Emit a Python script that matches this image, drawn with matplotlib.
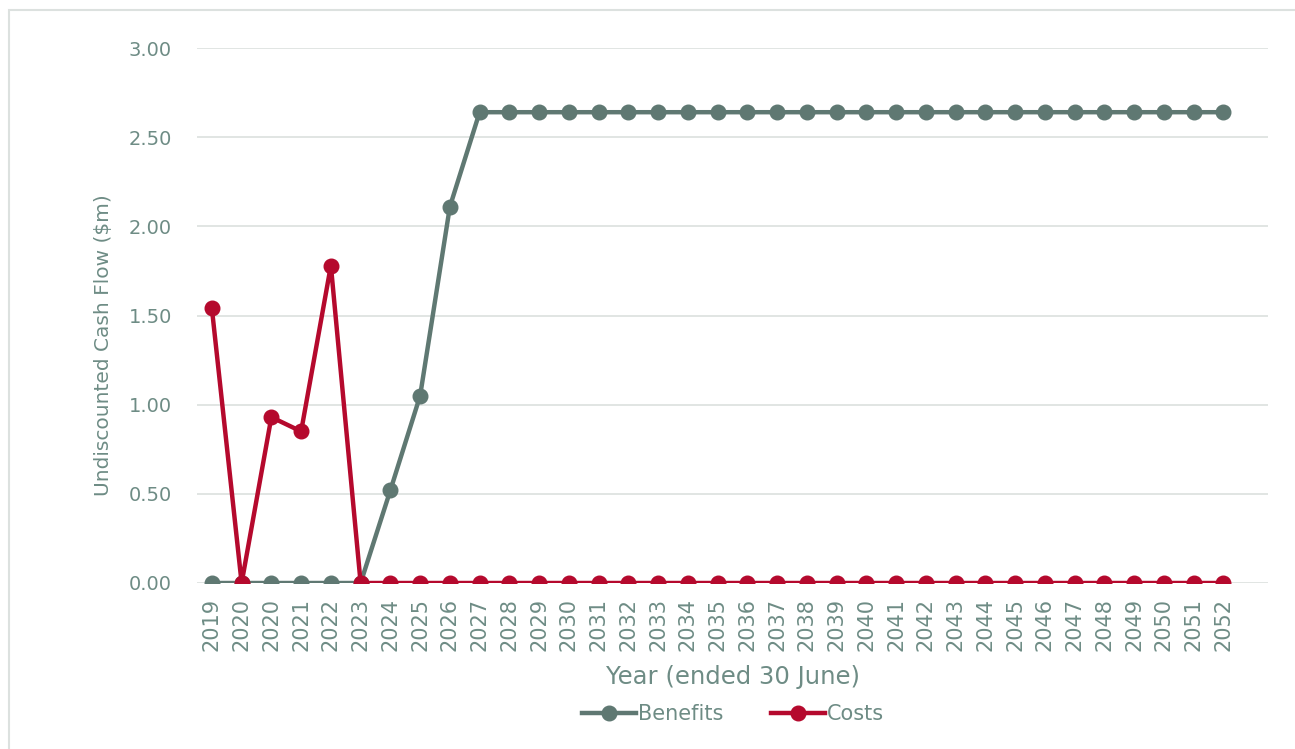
import matplotlib
matplotlib.use("Agg")
import matplotlib.pyplot as plt
from matplotlib.patches import Rectangle
from matplotlib.lines import Line2D

years = ["2019", "2020", "2020", "2021", "2022", "2023", "2024", "2025", "2026",
         "2027", "2028", "2029", "2030", "2031", "2032", "2033", "2034", "2035",
         "2036", "2037", "2038", "2039", "2040", "2041", "2042", "2043", "2044",
         "2045", "2046", "2047", "2048", "2049", "2050", "2051", "2052"]
benefits = [0, 0, 0, 0, 0, 0, 0.52, 1.05, 2.11] + [2.64] * 26
costs = [1.54, 0, 0.93, 0.85, 1.78] + [0] * 30

benefit_color = "#5F7872"
cost_color = "#B5092D"
text_color = "#6E8C85"
grid_color = "#DEE3E1"

plt.rcParams["font.family"] = ["DejaVu Sans"]

fig = plt.figure(figsize=(12.95, 7.49), dpi=100)
ax = fig.add_axes([197 / 1295, 1 - 583 / 749, (1268 - 197) / 1295, (583 - 48) / 749])

x = list(range(len(years)))
ax.plot(x, benefits, color=benefit_color, lw=3.2, marker="o", ms=10.5, zorder=3,
        solid_joinstyle="round", label="Benefits")
ax.plot(x, costs, color=cost_color, lw=3.2, marker="o", ms=10.5, zorder=4,
        solid_joinstyle="round", label="Costs")

ax.set_xlim(-0.5, len(years) + 0.5)
ax.set_ylim(0, 3)
ax.set_yticks([0, 0.5, 1, 1.5, 2, 2.5, 3])
ax.set_yticklabels([f"{v:.2f}" for v in [0, 0.5, 1, 1.5, 2, 2.5, 3]])
ax.set_xticks(x)
ax.set_xticklabels(years, rotation=90)
ax.grid(axis="y", color=grid_color, lw=1.3, zorder=0)
ax.set_axisbelow(True)
for s in ["top", "right", "left", "bottom"]:
    ax.spines[s].set_visible(False)
ax.tick_params(axis="both", length=0, colors=text_color)
ax.tick_params(axis="y", pad=18, labelsize=14)
ax.tick_params(axis="x", pad=11, labelsize=15)
ax.set_ylabel("Undiscounted Cash Flow ($m)", color=text_color, fontsize=14.5)
ax.yaxis.set_label_coords(-0.078, 0.445)
ax.set_xlabel("Year (ended 30 June)", color=text_color, fontsize=17.5, labelpad=10)

handles = [Line2D([], [], color=benefit_color, lw=3.2, marker="o", ms=10.5),
           Line2D([], [], color=cost_color, lw=3.2, marker="o", ms=10.5)]
fig.legend(handles, ["Benefits", "Costs"], loc="center", bbox_to_anchor=(0.566, 1 - 714 / 749),
           ncol=2, frameon=False, fontsize=15, labelcolor=text_color, handlelength=2.6,
           handletextpad=0.08, columnspacing=2.3)

fig.patches.append(Rectangle((9 / 1295, -0.1), 1.2, 1 - 10 / 749 + 0.1, transform=fig.transFigure,
                             fill=False, edgecolor="#DCE1DF", lw=1.5))

fig.savefig("out.png", dpi=100, facecolor="white")
